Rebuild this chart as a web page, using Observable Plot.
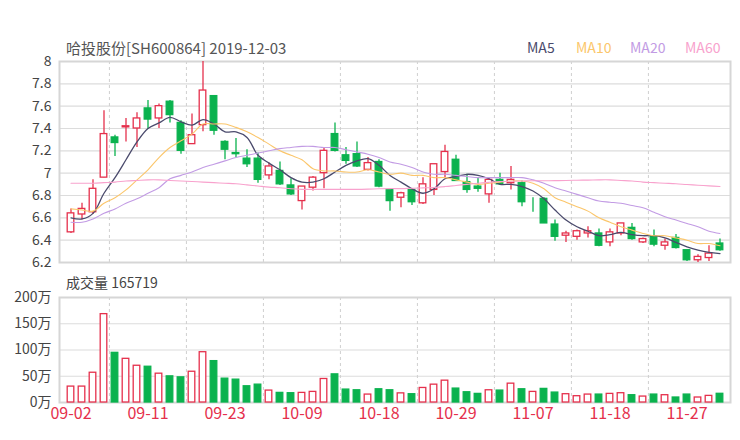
<!DOCTYPE html>
<html><head><meta charset="utf-8">
<script src="https://cdn.jsdelivr.net/npm/d3@7"></script>
<script src="https://cdn.jsdelivr.net/npm/@observablehq/plot@0.6"></script>
<style>
body{margin:0;background:#fff;font-family:"Noto Sans CJK SC","Noto Sans",sans-serif;}
#wrap{position:relative;width:740px;height:440px;overflow:hidden;background:#fff;}
.t{position:absolute;white-space:nowrap;line-height:1;}
#wrap svg{position:absolute;left:0;}
</style></head><body>
<div id="wrap"></div>
<script>
const titleText = "哈投股份[SH600864] 2019-12-03";
const volTitle = "成交量 165719";
const dates = ["09-02","09-03","09-04","09-05","09-06","09-09","09-10","09-11","09-12","09-16","09-17","09-18","09-19","09-20","09-23","09-24","09-25","09-26","09-27","09-30",
"10-08","10-09","10-10","10-11","10-14","10-15","10-16","10-17","10-18","10-21","10-22","10-23","10-24","10-25","10-28","10-29","10-30","10-31",
"11-01","11-04","11-05","11-06","11-07","11-08","11-11","11-12","11-13","11-14","11-15","11-18","11-19","11-20","11-21","11-22","11-25","11-26","11-27","11-28","11-29","12-02"];
const opens = [6.47,6.63,6.65,6.96,7.32,7.41,7.40,7.58,7.49,7.64, 7.45,7.26,7.43,7.69,7.28,7.18,7.13,7.13,6.98,7.02,
6.89,6.75,6.87,7.00,7.35,7.16,7.17,7.03,7.10,6.85, 6.78,6.85,6.73,6.85,7.01,7.12,6.92,6.88,6.81,6.94,
6.91,6.91,6.70,6.77,6.54,6.44,6.43,6.46,6.46,6.38, 6.46,6.51,6.38,6.43,6.35,6.42,6.31,6.22,6.24,6.37];
const closes = [6.64,6.68,6.86,7.35,7.27,7.42,7.49,7.48,7.60,7.52, 7.20,7.34,7.74,7.38,7.21,7.17,7.08,6.94,7.06,6.90,
6.81,6.88,6.96,7.20,7.20,7.11,7.06,7.09,6.88,6.75, 6.82,6.74,6.90,7.08,7.19,6.93,6.85,6.86,6.94,6.90,
6.94,6.74,6.70,6.55,6.43,6.46,6.48,6.48,6.35,6.47, 6.55,6.41,6.41,6.36,6.38,6.33,6.22,6.25,6.28,6.31];
const highs = [6.68,6.73,6.94,7.56,7.34,7.49,7.54,7.65,7.62,7.65, 7.47,7.53,8.00,7.69,7.29,7.31,7.21,7.18,7.09,7.10,
6.95,6.88,6.97,7.22,7.45,7.23,7.28,7.14,7.12,6.86, 6.83,6.85,6.96,7.08,7.25,7.16,6.99,6.96,6.96,7.00,
7.06,6.93,6.78,6.78,6.58,6.48,6.49,6.52,6.50,6.50, 6.55,6.55,6.42,6.49,6.41,6.45,6.31,6.27,6.35,6.41];
const lows = [6.46,6.58,6.63,6.96,7.15,7.28,7.23,7.39,7.40,7.45, 7.17,7.26,7.37,7.34,7.12,7.14,7.05,6.91,6.94,6.89,
6.80,6.67,6.84,6.86,7.19,7.08,7.05,7.02,6.87,6.66, 6.69,6.71,6.72,6.80,6.96,6.93,6.82,6.83,6.73,6.89,
6.85,6.70,6.65,6.55,6.39,6.38,6.40,6.42,6.34,6.34, 6.44,6.40,6.37,6.34,6.31,6.32,6.21,6.20,6.21,6.30];
const volumes = [30.3,30.3,56.7,168.3,94.6,83.2,70.0,68.1,54.9,49.8, 47.9,58.6,95.8,78.8,45.4,43.5,30.9,34.0,22.7,18.3,
17.7,18.3,20.2,44.8,53.6,24.6,23.3,15.1,25.2,23.3, 17.4,15.8,27.7,34.0,41.6,26.5,19.5,16.4,23.3,22.7,
35.9,25.2,20.2,25.9,18.9,15.8,12.0,15.1,15.1,16.4, 17.7,13.9,11.3,15.1,13.9,9.5,15.1,9.5,12.6,16.57];
const ma5 = [6.60,6.59,6.64,6.82,6.96,7.12,7.28,7.40,7.45,7.50, 7.46,7.43,7.48,7.44,7.37,7.37,7.32,7.16,7.09,7.03,
6.96,6.92,6.92,6.95,7.01,7.07,7.11,7.13,7.07,6.98, 6.92,6.86,6.82,6.86,6.95,6.97,6.99,6.98,6.95,6.90,
6.90,6.88,6.84,6.77,6.67,6.58,6.52,6.48,6.44,6.45, 6.47,6.45,6.44,6.44,6.42,6.38,6.34,6.31,6.29,6.28];
const ma10 = [6.68,6.67,6.66,6.73,6.78,6.85,6.94,7.03,7.14,7.23, 7.29,7.35,7.44,7.44,7.44,7.41,7.37,7.32,7.26,7.20,
7.16,7.12,7.04,7.02,7.02,7.01,7.01,7.03,7.01,6.99, 7.00,6.98,6.98,6.96,6.96,6.94,6.92,6.90,6.91,6.92,
6.93,6.93,6.91,6.86,6.78,6.74,6.70,6.66,6.60,6.56, 6.52,6.49,6.46,6.44,6.44,6.42,6.40,6.37,6.37,6.35];
const ma20 = [6.56,6.56,6.59,6.64,6.68,6.73,6.77,6.82,6.87,6.95, 6.98,7.01,7.05,7.08,7.11,7.14,7.16,7.18,7.20,7.22,
7.23,7.24,7.24,7.23,7.23,7.21,7.19,7.17,7.14,7.10, 7.08,7.05,7.01,6.99,6.99,6.98,6.97,6.96,6.96,6.96,
6.96,6.96,6.94,6.91,6.87,6.84,6.81,6.78,6.75,6.74, 6.73,6.71,6.69,6.65,6.61,6.58,6.55,6.52,6.48,6.46];
const ma60 = [6.91,6.91,6.91,6.915,6.92,6.93,6.935,6.94,6.94,6.935, 6.93,6.925,6.92,6.915,6.91,6.905,6.895,6.885,6.875,6.87,
6.86,6.855,6.855,6.855,6.855,6.855,6.855,6.857,6.86,6.862, 6.862,6.865,6.868,6.872,6.88,6.89,6.90,6.91,6.918,6.925,
6.928,6.93,6.932,6.932,6.933,6.935,6.937,6.938,6.94,6.94, 6.935,6.93,6.92,6.915,6.91,6.905,6.898,6.892,6.886,6.88];
const maNames = ["MA5","MA10","MA20","MA60"];
const maColors = ["#4a4a6c","#fbc66b","#c29be4","#f8a2cd"];
const priceTicks = [6.2,6.4,6.6,6.8,7,7.2,7.4,7.6,7.8,8];
const volTicks = [0,50,100,150,200];
const labelIdx = [0,7,14,21,28,35,42,49,56];
const gridIdx = [4,11,18,25,32,39,46,53];

const RED = "#e5304c", GREEN = "#0ab24e";
const FONT = "'Noto Sans CJK SC','Noto Sans',sans-serif";
const idx = d3.range(dates.length);
const rows = idx.map(i => ({i, open: opens[i], close: closes[i], high: highs[i], low: lows[i], vol: volumes[i]}));
const mas = [ma5, ma10, ma20, ma60];
const L = 59, R = 730;
const bw = (R - L) / dates.length;

const wrap = document.getElementById("wrap");

function addText(txt, left, top, size, color) {
  const d = document.createElement("div");
  d.className = "t";
  d.textContent = txt;
  d.style.left = left + "px"; d.style.top = top + "px";
  d.style.fontSize = size + "px"; d.style.color = color;
  wrap.appendChild(d);
}

const priceChart = Plot.plot({
  width: 740, height: 270,
  marginLeft: L, marginRight: 740 - R, marginTop: 61, marginBottom: 8,
  x: {type: "band", domain: idx, padding: 0, axis: null},
  y: {domain: [6.2, 8], axis: null},
  color: {type: "identity"},
  style: {fontFamily: FONT, background: "transparent", overflow: "visible"},
  marks: [
    Plot.ruleY(priceTicks, {y: d => d, stroke: "#dcdcdc", strokeWidth: 1.2}),
    Plot.ruleX(gridIdx, {x: d => d, dx: -bw / 2, stroke: "#cfcfcf", strokeDasharray: "3,3"}),
    Plot.frame({stroke: "#d6d6d6", strokeWidth: 2}),
    Plot.text(priceTicks, {y: d => d, text: d => String(d), frameAnchor: "left", textAnchor: "end", dx: -8, fill: "#444", fontSize: 14}),
    Plot.ruleX(rows, {x: "i", y1: "low", y2: "high", stroke: d => d.close > d.open ? RED : GREEN, strokeWidth: 1.3}),
    Plot.barY(rows, {x: "i", y1: "open", y2: "close", fill: d => d.close > d.open ? "#fff" : GREEN,
      stroke: d => d.close > d.open ? RED : GREEN, strokeWidth: 1.3, insetLeft: 2.2, insetRight: 2.2}),
    ...mas.map((m, k) => Plot.line(idx, {x: i => i, y: i => m[i], stroke: maColors[k], strokeWidth: k === 0 ? 1.3 : 1.1, curve: "catmull-rom"}))
  ]
});
priceChart.style.top = "0px";
wrap.appendChild(priceChart);

const volChart = Plot.plot({
  width: 740, height: 170,
  marginLeft: L, marginRight: 740 - R, marginTop: 27, marginBottom: 38,
  x: {type: "band", domain: idx, padding: 0, axis: null},
  y: {domain: [0, 200], axis: null},
  color: {type: "identity"},
  style: {fontFamily: FONT, background: "transparent", overflow: "visible"},
  marks: [
    Plot.ruleY(volTicks, {y: d => d, stroke: "#dcdcdc", strokeWidth: 1.2}),
    Plot.ruleX(gridIdx, {x: d => d, dx: -bw / 2, stroke: "#cfcfcf", strokeDasharray: "3,3"}),
    Plot.frame({stroke: "#d6d6d6", strokeWidth: 2}),
    Plot.text(volTicks, {y: d => d, text: d => d + "万", frameAnchor: "left", textAnchor: "end", dx: -8, fill: "#444", fontSize: 14}),
    Plot.barY(rows, {x: "i", y: "vol", fill: d => d.close >= d.open ? "#fff" : GREEN,
      stroke: d => d.close >= d.open ? RED : GREEN, strokeWidth: 1.3, insetLeft: 2.2, insetRight: 2.2}),
    Plot.text(labelIdx, {x: d => d, text: d => dates[d], frameAnchor: "bottom", dy: 16, fill: RED, fontSize: 16})
  ]
});
volChart.style.top = "270px";
wrap.appendChild(volChart);

addText(titleText, 66, 40, 15, "#555");
const legendLeft = [527, 576, 630, 685];
maNames.forEach((n, k) => addText(n, legendLeft[k], 39.5, 14, maColors[k]));
addText(volTitle, 66, 275, 14, "#444");
</script>
</body></html>
